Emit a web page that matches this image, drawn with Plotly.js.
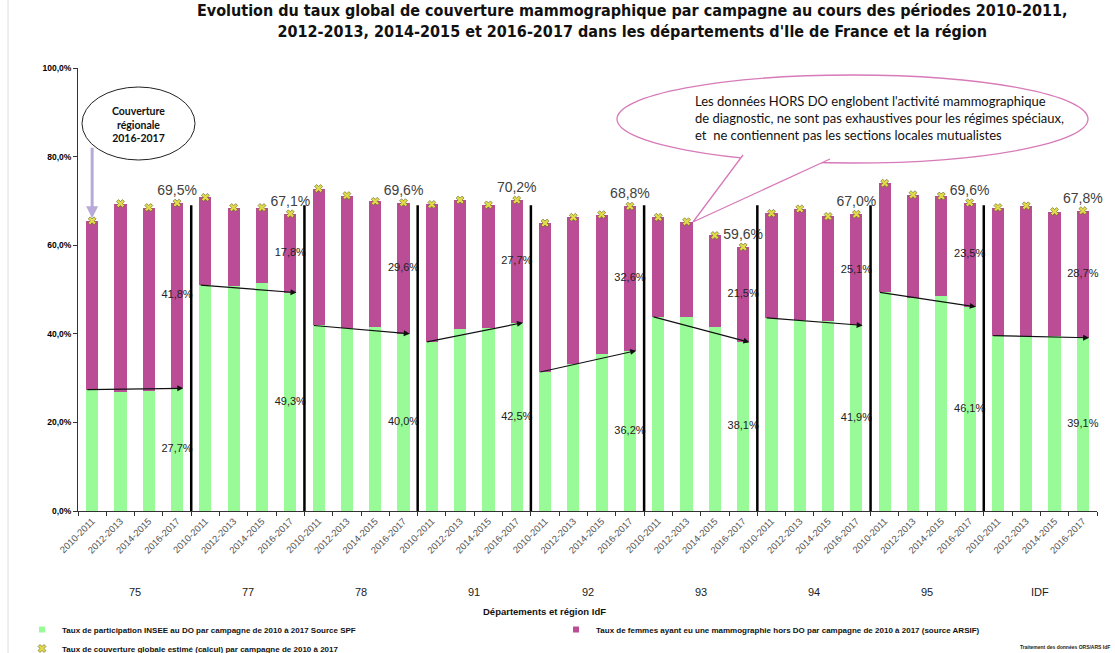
<!DOCTYPE html>
<html><head><meta charset="utf-8">
<script src="https://cdn.plot.ly/plotly-3.0.1.min.js"></script>
<style>html,body{margin:0;padding:0;background:#fff;}#chart{width:1115px;height:653px;}</style>
</head><body><div id="chart"></div>
<script>
// ---- data ----
const groups  = ['75','77','78','91','92','93','94','95','IDF'];
const periods = ['2010-2011','2012-2013','2014-2015','2016-2017'];
// Taux de participation INSEE au DO (green), per group, 4 campaigns
const participationDO = [
  [27.4, 26.8, 27.2, 27.7],
  [51.0, 50.9, 51.4, 49.3],
  [41.9, 41.3, 41.5, 40.0],
  [38.1, 41.0, 41.4, 42.5],
  [31.3, 33.1, 35.5, 36.2],
  [43.9, 43.9, 41.5, 38.1],
  [43.6, 43.2, 42.8, 41.9],
  [49.4, 48.0, 48.6, 46.1],
  [39.6, 39.6, 39.6, 39.1]
];
// Taux de femmes ayant eu une mammographie hors DO (purple)
const horsDO = [
  [38.1, 42.6, 41.3, 41.8],
  [19.8, 17.6, 17.1, 17.8],
  [30.9, 29.9, 28.4, 29.6],
  [31.1, 29.2, 27.7, 27.7],
  [33.7, 33.2, 31.4, 32.6],
  [22.4, 21.4, 20.7, 21.5],
  [23.6, 25.0, 23.7, 25.1],
  [24.6, 23.4, 22.5, 23.5],
  [28.9, 29.3, 28.0, 28.7]
];
const legendNames = [
  'Taux de participation INSEE au DO par campagne de 2010 à 2017 Source SPF',
  'Taux de femmes ayant eu une mammographie hors DO par campagne de 2010 à 2017 (source ARSIF)',
  'Taux de couverture globale estimé (calcul) par campagne de 2010 à 2017'
];

// ---- build ----
const GREEN = '#99fb98', PURPLE = '#bb4d97';
const nP = periods.length;
const xs = [], ticktext = [], g = [], p = [], tot = [];
groups.forEach((grp, gi) => periods.forEach((per, pi) => {
  xs.push(gi * nP + pi);
  ticktext.push(per);
  g.push(participationDO[gi][pi]);
  p.push(horsDO[gi][pi]);
  tot.push(+(participationDO[gi][pi] + horsDO[gi][pi]).toFixed(1));
}));
const fmt = v => v.toFixed(1).replace('.', ',') + '%';

const lastX = groups.map((_, gi) => gi * nP + nP - 1);
const lastG = groups.map((_, gi) => participationDO[gi][nP - 1]);
const lastP = groups.map((_, gi) => horsDO[gi][nP - 1]);
const lastT = groups.map((_, gi) => +(lastG[gi] + lastP[gi]).toFixed(1));

const traces = [
  {type: 'bar', x: xs, y: g, marker: {color: GREEN}, showlegend: false, hoverinfo: 'skip'},
  {type: 'bar', x: xs, y: p, marker: {color: PURPLE}, showlegend: false, hoverinfo: 'skip'},
  // legend proxies
  {type: 'scatter', mode: 'markers', x: [null], y: [null], name: legendNames[0],
   marker: {symbol: 'square', size: 6, color: GREEN}},
  {type: 'scatter', mode: 'markers', x: [null], y: [null], name: legendNames[1],
   marker: {symbol: 'square', size: 6, color: PURPLE}},
  {type: 'scatter', mode: 'markers', x: xs, y: tot, name: legendNames[2], cliponaxis: false,
   marker: {symbol: 'x', size: 7, color: '#e2dc4a', line: {width: 0.6, color: '#5a5a20'}}, hoverinfo: 'skip'},
  // labels on last campaign
  {type: 'scatter', mode: 'text', x: lastX, y: lastG.map(v => v / 2), text: lastG.map(fmt),
   textposition: 'middle center', textfont: {family: 'Arial, Liberation Sans', size: 11, color: '#222'},
   showlegend: false, hoverinfo: 'skip', cliponaxis: false},
  {type: 'scatter', mode: 'text', x: lastX, y: lastG.map((v, i) => v + lastP[i] / 2), text: lastP.map(fmt),
   textposition: 'middle center', textfont: {family: 'Arial, Liberation Sans', size: 11, color: '#222'},
   showlegend: false, hoverinfo: 'skip', cliponaxis: false},
  {type: 'scatter', mode: 'text', x: lastX, y: lastT.map(v => v + 1), text: lastT.map(fmt),
   textposition: 'top center', textfont: {family: 'Arial, Liberation Sans', size: 14, color: '#404040'},
   showlegend: false, hoverinfo: 'skip', cliponaxis: false}
];

// pixel -> paper helpers (plot area 78..1097 x 68..511)
const W = 1115, H = 653;
const L = 78, R = 1097, T = 68, B = 511;
const px = v => (v - L) / (R - L);
const py = v => (B - v) / (B - T);

const shapes = [];
// separators between groups
for (let gi = 1; gi < groups.length; gi++) {
  const xb = gi * nP - 0.5;
  shapes.push({type: 'line', xref: 'x', yref: 'y', x0: xb, x1: xb, y0: 0, y1: 69,
               line: {color: '#000', width: 2.5}});
}
// frame line on the left
shapes.push({type: 'line', xref: 'paper', yref: 'paper', x0: px(8), x1: px(8), y0: py(653), y1: py(0),
             line: {color: '#dcdcdc', width: 1}});
// "Couverture régionale" ellipse
shapes.push({type: 'circle', xref: 'paper', yref: 'paper', x0: px(82), x1: px(195), y0: py(160), y1: py(87),
             line: {color: '#222', width: 1}, fillcolor: '#fff'});
// speech bubble
shapes.push({type: 'circle', xref: 'paper', yref: 'paper', x0: px(617), x1: px(1088), y0: py(163), y1: py(75),
             line: {color: '#d77ab8', width: 1.3}, fillcolor: 'rgba(255,255,255,1)'});
shapes.push({type: 'path', xref: 'paper', yref: 'paper',
             path: `M ${px(743)} ${py(155)} L ${px(693)} ${py(222)} L ${px(830)} ${py(159)}`,
             line: {color: '#d77ab8', width: 1.3}, fillcolor: '#fff'});

const annotations = [];
// trend arrows on green segment, first -> last campaign
groups.forEach((grp, gi) => {
  annotations.push({xref: 'x', yref: 'y', axref: 'x', ayref: 'y',
    x: gi * nP + nP - 1 + 0.22, y: participationDO[gi][nP - 1],
    ax: gi * nP - 0.22, ay: participationDO[gi][0],
    showarrow: true, arrowhead: 2, arrowsize: 1, arrowwidth: 1.2, arrowcolor: '#111', text: ''});
  annotations.push({xref: 'x', yref: 'paper', x: gi * nP + (nP - 1) / 2, y: py(592),
    xanchor: 'center', yanchor: 'middle',
    text: grp, showarrow: false, font: {family: 'Arial, Liberation Sans', size: 11, color: '#222'}});
});
// regional arrow
annotations.push({xref: 'x', yref: 'y', x: 0, y: tot[0] + 0.6, ax: 0, ay: -72, text: '',
  showarrow: true, arrowhead: 2, arrowsize: 0.8, arrowwidth: 3, arrowcolor: '#b9a9d9'});
annotations.push({xref: 'paper', yref: 'paper', x: px(138), y: py(124), xanchor: 'center', yanchor: 'middle',
  showarrow: false, text: '<b>Couverture<br>régionale<br>2016-2017</b>', align: 'center',
  font: {family: 'Lato, Open Sans', size: 10.5, color: '#111'}});
annotations.push({xref: 'paper', yref: 'paper', x: px(693), y: py(91), xanchor: 'left', yanchor: 'top',
  showarrow: false, align: 'left',
  text: "Les données HORS DO englobent l'activité mammographique<br>de diagnostic, ne sont pas exhaustives pour les régimes spéciaux,<br>et  ne contiennent pas les sections locales mutualistes",
  font: {family: 'Lato, Open Sans', size: 13, color: '#111'}});
annotations.push({xref: 'paper', yref: 'paper', x: px(544), y: py(611), xanchor: 'center', yanchor: 'middle',
  showarrow: false,
  text: '<b>Départements et région IdF</b>', font: {family: 'Arial, Liberation Sans', size: 9.5, color: '#111'}});
annotations.push({xref: 'paper', yref: 'paper', x: px(1112), y: py(647), xanchor: 'right', yanchor: 'middle',
  showarrow: false,
  text: '<b>Traitement des données ORS/ARS IdF</b>', font: {family: 'Arial', size: 5, color: '#222'}});

const layout = {
  width: W, height: H,
  margin: {l: L, r: W - R, t: T, b: H - B, autoexpand: false},
  paper_bgcolor: '#fff', plot_bgcolor: '#fff',
  separators: ', ',
  barmode: 'stack', bargap: 0.57,
  showlegend: true,
  title: {
    text: "<b>Evolution du taux global de couverture mammographique par campagne au cours des périodes 2010-2011,<br>2012-2013, 2014-2015 et 2016-2017 dans les départements d'Ile de France et la région</b>",
    xref: 'container', yref: 'container', x: 0.567, xanchor: 'center', y: 1 - 16 / H, yanchor: 'top',
    font: {family: 'DejaVu Sans Condensed, DejaVu Sans', size: 16, color: '#111'}
  },
  xaxis: {
    range: [-0.5, xs.length - 0.5], tickmode: 'array', tickvals: xs, ticktext: ticktext,
    tickangle: -45, ticks: '', showgrid: false, zeroline: false, automargin: false,
    showline: true, linecolor: '#333', linewidth: 1,
    tickfont: {family: 'Arial, Liberation Sans', size: 9.5, color: '#555'},
    minor: {tickvals: xs.concat([xs.length]).map(v => v - 0.5), ticks: 'outside', ticklen: 4, tickcolor: '#333', showgrid: false}
  },
  yaxis: {
    range: [0, 100], tickmode: 'linear', tick0: 0, dtick: 20, tickformat: '.1f', ticksuffix: '%',
    showgrid: false, zeroline: false, showline: true, linecolor: '#333', linewidth: 1, automargin: false,
    ticks: 'outside', ticklen: 4, tickcolor: '#333',
    tickfont: {family: 'Arial, Liberation Sans', size: 8.5, color: '#000', weight: 'bold'}
  },
  legend: {
    orientation: 'h', xref: 'paper', yref: 'paper',
    x: px(22), y: py(615), xanchor: 'left', yanchor: 'top',
    traceorder: 'normal',
    entrywidth: 489, entrywidthmode: 'pixels', itemwidth: 30, tracegroupgap: 0,
    font: {family: 'Arial, Liberation Sans', size: 8, color: '#111', weight: 'bold'},
    bgcolor: 'rgba(0,0,0,0)'
  },
  shapes: shapes,
  annotations: annotations
};

Plotly.newPlot('chart', traces, layout, {displayModeBar: false, staticPlot: true});
</script></body></html>
